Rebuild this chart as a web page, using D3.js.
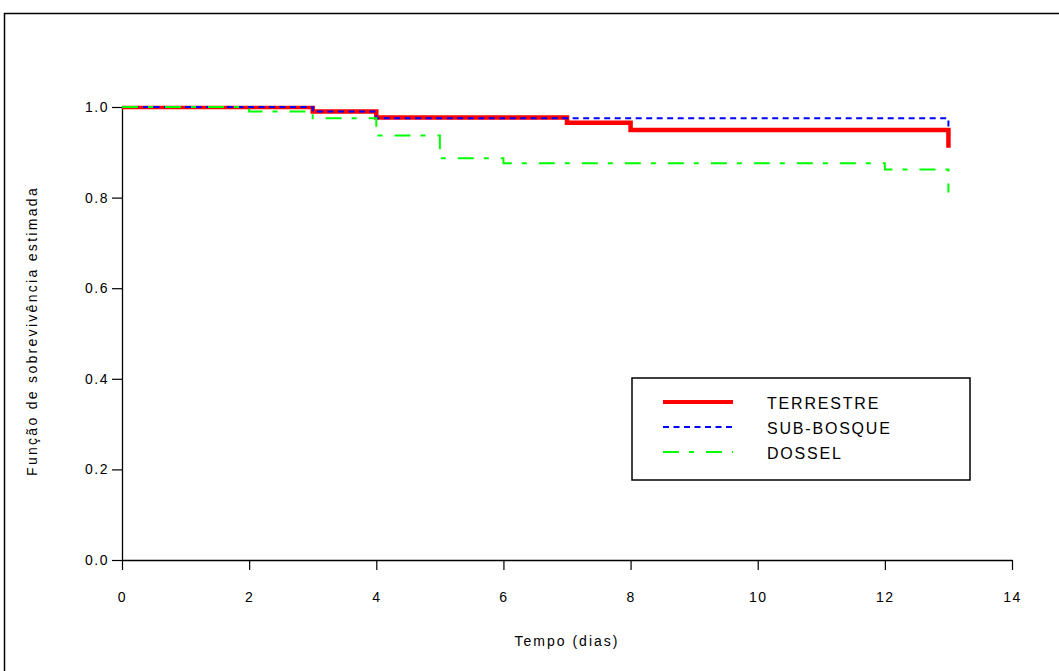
<!DOCTYPE html>
<html>
<head>
<meta charset="utf-8">
<script src="https://cdn.jsdelivr.net/npm/d3@7"></script>
<style>
  html, body { margin: 0; padding: 0; background: #fff; }
  svg { display: block; }
  text { font-family: "Liberation Sans", Arial, sans-serif; fill: #000; }
</style>
</head>
<body>
<svg id="chart" width="1059" height="671"></svg>
<script>
// ---- data ----
const seriesNames = ["TERRESTRE", "SUB-BOSQUE", "DOSSEL"];
const terrestreTimes = [0, 3, 4, 7, 8, 13];
const terrestreSurv  = [1.0, 0.990, 0.977, 0.965, 0.949, 0.910];
const subBosqueTimes = [0, 3, 4, 13];
const subBosqueSurv  = [1.0, 0.990, 0.975, 0.950];
const dosselTimes    = [0, 2, 3, 4, 5, 6, 12, 13];
const dosselSurv     = [1.0, 0.990, 0.975, 0.937, 0.887, 0.876, 0.862, 0.811];
const xTicks = [0, 2, 4, 6, 8, 10, 12, 14];
const yTicks = [0.0, 0.2, 0.4, 0.6, 0.8, 1.0];
const xTitle = "Tempo (dias)";
const yTitle = "Função de sobrevivência estimada";

// ---- layout ----
const svg = d3.select("#chart");
const x = d3.scaleLinear().domain([0, 14]).range([122, 1012]);
const y = d3.scaleLinear().domain([0, 1]).range([560, 107]);

// frame (top and left edges visible)
svg.append("path")
  .attr("d", "M4.5,671 L4.5,13.5 L1059,13.5")
  .attr("fill", "none").attr("stroke", "#000").attr("stroke-width", 1.5);

// axes
const xAxis = d3.axisBottom(x).tickValues(xTicks).tickSize(10).tickSizeOuter(0).tickPadding(22)
  .tickFormat(d3.format("d"));
const yAxis = d3.axisLeft(y).tickValues(yTicks).tickSize(10).tickSizeOuter(0).tickPadding(3)
  .tickFormat(d3.format(".1f"));

const gx = svg.append("g").attr("transform", `translate(0,${y(0)})`).call(xAxis);
const gy = svg.append("g").attr("transform", `translate(${x(0)},0)`).call(yAxis);
[gx, gy].forEach(g => {
  g.select(".domain").attr("stroke", "#000").attr("stroke-width", 1.3);
  g.selectAll(".tick line").attr("stroke", "#000").attr("stroke-width", 1.2);
  g.selectAll(".tick text")
    .style("font-size", "14px").style("letter-spacing", "1.5px")
    .style("font-family", "'Liberation Sans', Arial, sans-serif").attr("fill", "#000");
});

// axis titles
svg.append("text").attr("x", 567).attr("y", 646).attr("text-anchor", "middle")
  .style("font-size", "14px").style("letter-spacing", "2px").text(xTitle);
svg.append("text").attr("transform", `translate(37,${331}) rotate(-90)`).attr("text-anchor", "middle")
  .style("font-size", "14px").style("letter-spacing", "2.3px").text(yTitle);

// clip
svg.append("clipPath").attr("id", "plotclip").append("rect")
  .attr("x", x(0)).attr("y", y(1) - 1.2).attr("width", x(14) - x(0)).attr("height", y(0) - y(1) + 1.2);

const line = d3.line().x(d => x(d[0])).y(d => y(d[1])).curve(d3.curveStepAfter);

const series = [
  { name: seriesNames[0], t: terrestreTimes, s: terrestreSurv, color: "#ff0000", width: 4.5, dash: null },
  { name: seriesNames[1], t: subBosqueTimes, s: subBosqueSurv, color: "#0000ff", width: 2, dash: "6,4.5" },
  { name: seriesNames[2], t: dosselTimes, s: dosselSurv, color: "#00ff00", width: 2, dash: "16,10,5,12" }
];

const plot = svg.append("g").attr("clip-path", "url(#plotclip)");
series.forEach(sr => {
  const pts = sr.t.map((t, i) => [t, sr.s[i]]);
  plot.append("path").attr("d", line(pts))
    .attr("fill", "none").attr("stroke", sr.color).attr("stroke-width", sr.width)
    .attr("stroke-dasharray", sr.dash);
});

// legend
const lg = svg.append("g");
lg.append("rect").attr("x", 632).attr("y", 378).attr("width", 338).attr("height", 102)
  .attr("fill", "#fff").attr("stroke", "#000").attr("stroke-width", 1.5);
const legY = d3.scalePoint().domain(seriesNames).range([402, 452]);
series.forEach(sr => {
  const yy = legY(sr.name);
  lg.append("line").attr("x1", 663).attr("x2", 733).attr("y1", yy).attr("y2", yy)
    .attr("stroke", sr.color).attr("stroke-width", sr.width === 4.5 ? 4 : 2)
    .attr("stroke-dasharray", sr.dash);
  lg.append("text").attr("x", 767).attr("y", yy + 7)
    .style("font-size", "16px").style("letter-spacing", "1.8px").text(sr.name);
});
</script>
</body>
</html>
